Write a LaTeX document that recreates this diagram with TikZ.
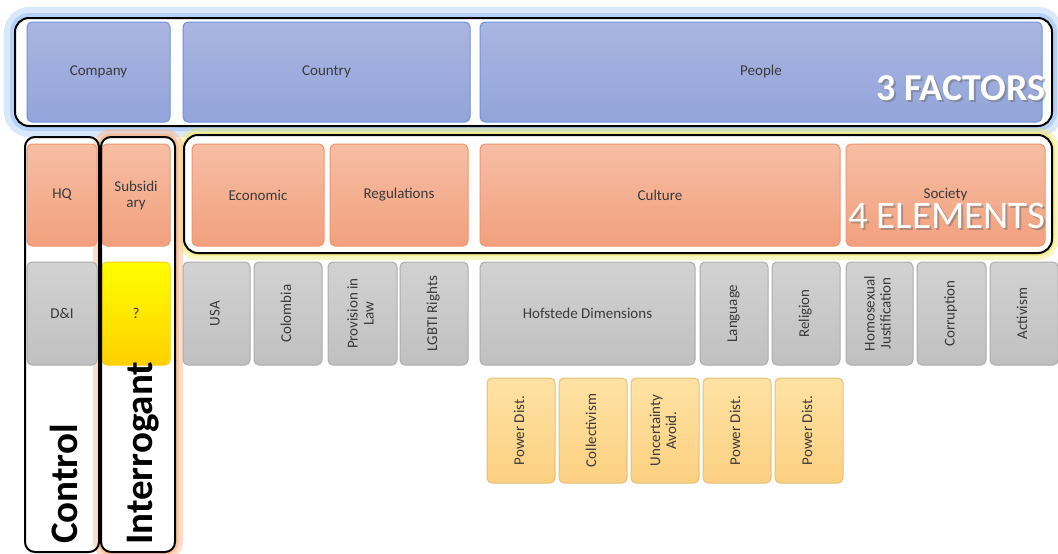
\documentclass[tikz,border=0pt]{standalone}
\usepackage{fontspec}
\setmainfont{Carlito}
\usepackage{graphicx}
\usetikzlibrary{positioning}

\definecolor{factortop}{RGB}{170,182,225}
\definecolor{factorbot}{RGB}{146,164,218}
\definecolor{factoredge}{RGB}{112,146,222}
\definecolor{elemtop}{RGB}{246,190,164}
\definecolor{elembot}{RGB}{242,160,126}
\definecolor{elemedge}{RGB}{238,150,110}
\definecolor{subtop}{RGB}{210,210,210}
\definecolor{subbot}{RGB}{192,192,192}
\definecolor{subedge}{RGB}{172,172,172}
\definecolor{dimtop}{RGB}{254,226,164}
\definecolor{dimbot}{RGB}{252,208,128}
\definecolor{dimedge}{RGB}{228,192,120}
\definecolor{qtop}{RGB}{255,255,0}
\definecolor{qbot}{RGB}{255,208,0}
\definecolor{labelgray}{RGB}{58,58,58}
\definecolor{glowblue}{RGB}{150,190,245}
\definecolor{glowyellow}{RGB}{240,234,120}
\definecolor{gloworange}{RGB}{250,180,135}

\newcommand{\vlabel}[1]{\rotatebox{90}{\begin{tabular}{@{}c@{}}#1\end{tabular}}}

\begin{document}
\begin{tikzpicture}[x=1pt, y=-1pt]
    \tikzstyle{cell} = [rectangle, rounded corners=5pt, line width=1pt, outer sep=0pt, align=center, inner sep=1pt, text=labelgray, font=\fontsize{15}{16}\selectfont]
    \tikzstyle{factor} = [cell, top color=factortop, bottom color=factorbot, draw=factoredge, minimum height=100pt]
    \tikzstyle{element} = [cell, top color=elemtop, bottom color=elembot, draw=elemedge, minimum height=102pt]
    \tikzstyle{subitem} = [cell, top color=subtop, bottom color=subbot, draw=subedge, minimum height=103pt, minimum width=68pt]
    \tikzstyle{dimension} = [cell, top color=dimtop, bottom color=dimbot, draw=dimedge, minimum height=105pt, minimum width=68pt]
    \tikzstyle{group} = [draw=black, line width=2pt, rounded corners=14pt]
    \tikzstyle{bigword} = [rotate=90, anchor=west, inner sep=0pt, font=\fontsize{39}{40}\selectfont\bfseries]
    \tikzstyle{bannerword} = [inner sep=0pt, font=\fontsize{39}{40}\selectfont]

    \useasboundingbox (0,0) rectangle (1058,554);

    % 光晕
    \draw[glowblue, line width=22pt, opacity=0.35, rounded corners=14pt] (15,18) rectangle (1052,126);
    \draw[glowblue, line width=10pt, opacity=0.55, rounded corners=14pt] (15,18) rectangle (1052,126);
    \fill[white, rounded corners=14pt] (15,18) rectangle (1052,126);
    \draw[glowyellow, line width=14pt, opacity=0.45, rounded corners=14pt] (184,135) rectangle (1052,253);
    \draw[glowyellow, line width=6pt, opacity=0.7, rounded corners=14pt] (184,135) rectangle (1052,253);
    \fill[white, rounded corners=14pt] (184,135) rectangle (1052,253);
    \draw[gloworange, line width=16pt, opacity=0.45, rounded corners=10pt] (101,137) rectangle (175,552);
    \draw[gloworange, line width=7pt, opacity=0.65, rounded corners=10pt] (101,137) rectangle (175,552);
    \fill[white, rounded corners=10pt] (101,137) rectangle (175,552);

    % 三个因素
    \node[factor, anchor=north west, minimum width=143pt] (company) at (27,22) {Company};
    \node[factor, minimum width=287pt, right=13pt of company] (country) {Country};
    \node[factor, minimum width=562pt, right=10pt of country] (people) {People};

    % 四个要素
    \node[element, anchor=north west, minimum width=70pt] (hq) at (27,144) {HQ};
    \node[element, minimum width=68pt, right=5pt of hq] (subsidiary) {Subsidi\\ary};
    \node[element, anchor=north west, minimum width=132pt] (economic) at (192,144) {Economic};
    \node[element, minimum width=138pt, right=6pt of economic] (regulations) {Regulations};
    \node[element, minimum width=360pt, right=12pt of regulations] (culture) {Culture};
    \node[element, minimum width=199pt, right=6pt of culture] (society) {Society};

    % 子项
    \node[subitem, anchor=north west, minimum width=70pt] (dni) at (27,262) {D\&I};
    \node[subitem, anchor=north west, top color=qtop, bottom color=qbot, draw=qbot] (question) at (102,262) {?};
    \node[subitem, anchor=north west, minimum width=67pt] (usa) at (183,262) {\vlabel{USA}};
    \node[subitem, right=4pt of usa] (colombia) {\vlabel{Colombia}};
    \node[subitem, minimum width=69pt, right=6pt of colombia] (provision) {\vlabel{Provision in\\Law}};
    \node[subitem, right=3pt of provision] (lgbti) {\vlabel{LGBTI Rights}};
    \node[subitem, anchor=north west, minimum width=215pt] (hofstede) at (480,262) {Hofstede Dimensions};
    \node[subitem, right=5pt of hofstede] (language) {\vlabel{Language}};
    \node[subitem, right=4pt of language] (religion) {\vlabel{Religion}};
    \node[subitem, minimum width=67pt, right=6pt of religion] (homosexual) {\vlabel{Homosexual\\Justification}};
    \node[subitem, minimum width=69pt, right=4pt of homosexual] (corruption) {\vlabel{Corruption}};
    \node[subitem, right=4pt of corruption] (activism) {\vlabel{Activism}};

    % 维度
    \node[dimension, anchor=north west] (powerA) at (487,378) {\vlabel{Power Dist.}};
    \node[dimension, right=4pt of powerA] (collectivism) {\vlabel{Collectivism}};
    \node[dimension, right=4pt of collectivism] (uncertainty) {\vlabel{Uncertainty\\Avoid.}};
    \node[dimension, right=4pt of uncertainty] (powerB) {\vlabel{Power Dist.}};
    \node[dimension, right=4pt of powerB] (powerC) {\vlabel{Power Dist.}};

    % 外框
    \draw[group] (15,18) rectangle (1052,126);
    \draw[group] (184,135) rectangle (1052,253);
    \draw[group, rounded corners=10pt] (25,137) rectangle (99,552);
    \draw[group, rounded corners=10pt] (101,137) rectangle (175,552);

    % 大字
    \node[bigword] (control) at (64,544) {Control};
    \node[bigword] (interrogant) at (143,545) {Interrogant};
    \node[bannerword, font=\fontsize{38}{40}\selectfont\bfseries, text=black!60, opacity=0.45] (factorshade) at (963,90) {3 FACTORS};
    \node[bannerword, font=\fontsize{38}{40}\selectfont\bfseries, text=white] (factorword) at (961,88) {3 FACTORS};
    \node[bannerword, text=black!60, opacity=0.45] (elementshade) at (949,218) {4 ELEMENTS};
    \node[bannerword, text=white] (elementword) at (947,216) {4 ELEMENTS};
\end{tikzpicture}
\end{document}
